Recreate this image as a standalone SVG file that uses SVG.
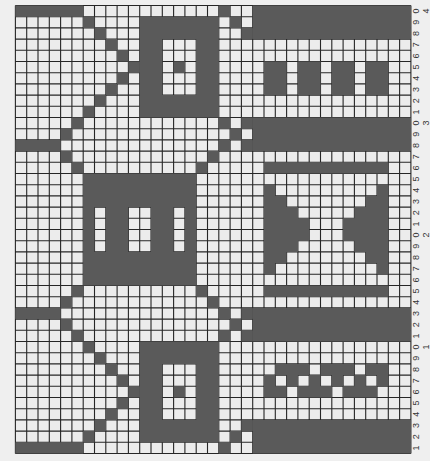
<svg xmlns="http://www.w3.org/2000/svg" width="430" height="461" viewBox="0 0 430 461">
<style>
.lbl{font-family:"Liberation Sans",Arial,sans-serif;font-size:9px;fill:#333;text-anchor:middle;dominant-baseline:central}
.grid{fill:none;stroke:#262626;stroke-width:1.1}
.dk{fill:#5a5a5a}
</style>
<rect width="430" height="461" fill="#efefef"/>
<g id="chart" transform="translate(15.4 5.5) scale(11.3 11.2)">
<rect width="35" height="40" fill="#ececec"/>
<path class="grid" vector-effect="non-scaling-stroke" d="M0 0V40M1 0V40M2 0V40M3 0V40M4 0V40M5 0V40M6 0V40M7 0V40M8 0V40M9 0V40M10 0V40M11 0V40M12 0V40M13 0V40M14 0V40M15 0V40M16 0V40M17 0V40M18 0V40M19 0V40M20 0V40M21 0V40M22 0V40M23 0V40M24 0V40M25 0V40M26 0V40M27 0V40M28 0V40M29 0V40M30 0V40M31 0V40M32 0V40M33 0V40M34 0V40M35 0V40
M0 0H35M0 1H35M0 2H35M0 3H35M0 4H35M0 5H35M0 6H35M0 7H35M0 8H35M0 9H35M0 10H35M0 11H35M0 12H35M0 13H35M0 14H35M0 15H35M0 16H35M0 17H35M0 18H35M0 19H35M0 20H35M0 21H35M0 22H35M0 23H35M0 24H35M0 25H35M0 26H35M0 27H35M0 28H35M0 29H35M0 30H35M0 31H35M0 32H35M0 33H35M0 34H35M0 35H35M0 36H35M0 37H35M0 38H35M0 39H35M0 40H35"/>
<g id="left-lattice" class="dk">
<path d="M0 0h6v1h-6z M6 1h1v1h-1z M7 2h1v1h-1z M8 3h1v1h-1z M9 4h1v1h-1z M10 5h1v1h-1z M9 6h1v1h-1z M8 7h1v1h-1z M7 8h1v1h-1z M6 9h1v1h-1z M5 10h1v1h-1z M4 11h1v1h-1z M0 12h4v1h-4z M4 13h1v1h-1z M5 14h1v1h-1z
M5 25h1v1h-1z M4 26h1v1h-1z M0 27h4v1h-4z M4 28h1v1h-1z M5 29h1v1h-1z M6 30h1v1h-1z M7 31h1v1h-1z M8 32h1v1h-1z M9 33h1v1h-1z M10 34h1v1h-1z M9 35h1v1h-1z M8 36h1v1h-1z M7 37h1v1h-1z M6 38h1v1h-1z M0 39h6v1h-6z"/>
</g>
<g id="blocks" class="dk">
<path fill-rule="evenodd" d="M11 1h7v9h-7z M13 3h3v5h-3z M14 5h1v1h-1z"/>
<path fill-rule="evenodd" d="M6 15h10v10h-10z M7 18h1v4h-1z M10 18h2v4h-2z M14 18h1v4h-1z"/>
<path fill-rule="evenodd" d="M11 30h7v9h-7z M13 32h3v5h-3z M14 34h1v1h-1z"/>
</g>
<g id="diamonds" class="dk">
<path d="M18 0h1v1h-1z M19 1h1v1h-1z M20 2h1v1h-1z
M18 10h1v1h-1z M20 10h1v1h-1z M19 11h1v1h-1z M18 12h1v1h-1z M20 12h1v1h-1z M17 13h1v1h-1z M16 14h1v1h-1z
M16 25h1v1h-1z M17 26h1v1h-1z M18 27h1v1h-1z M20 27h1v1h-1z M19 28h1v1h-1z M18 29h1v1h-1z M20 29h1v1h-1z
M20 37h1v1h-1z M19 38h1v1h-1z M18 39h1v1h-1z"/>
</g>
<g id="right-bands" class="dk">
<path d="M21 0h14v3h-14z M22 5h2v3h-2z M25 5h2v3h-2z M28 5h2v3h-2z M31 5h2v3h-2z M21 10h14v3h-14z"/>
<path d="M22 14h11v1h-11z M22 16h1v1h1v1h1v1h1v2h-1v1h-1v1h-1v1h-1z M33 16h-1v1h-1v1h-1v1h-1v2h1v1h1v1h1v1h1z M22 25h11v1h-11z"/>
<path d="M21 27h14v3h-14z M23 32h3v1h-3z M27 32h3v1h-3z M31 32h2v1h-2z M22 33h1v1h-1z M24 33h1v1h-1z M26 33h1v1h-1z M28 33h1v1h-1z M30 33h1v1h-1z M32 33h1v1h-1z M22 34h2v1h-2z M25 34h3v1h-3z M29 34h3v1h-3z M21 37h14v3h-14z"/>
</g>
</g>
<g id="row-numbers" class="lbl">
<text transform="translate(416 11.1) rotate(-90)">0</text>
<text transform="translate(416 22.3) rotate(-90)">9</text>
<text transform="translate(416 33.5) rotate(-90)">8</text>
<text transform="translate(416 44.7) rotate(-90)">7</text>
<text transform="translate(416 55.9) rotate(-90)">6</text>
<text transform="translate(416 67.1) rotate(-90)">5</text>
<text transform="translate(416 78.3) rotate(-90)">4</text>
<text transform="translate(416 89.5) rotate(-90)">3</text>
<text transform="translate(416 100.7) rotate(-90)">2</text>
<text transform="translate(416 111.9) rotate(-90)">1</text>
<text transform="translate(416 123.1) rotate(-90)">0</text>
<text transform="translate(416 134.3) rotate(-90)">9</text>
<text transform="translate(416 145.5) rotate(-90)">8</text>
<text transform="translate(416 156.7) rotate(-90)">7</text>
<text transform="translate(416 167.9) rotate(-90)">6</text>
<text transform="translate(416 179.1) rotate(-90)">5</text>
<text transform="translate(416 190.3) rotate(-90)">4</text>
<text transform="translate(416 201.5) rotate(-90)">3</text>
<text transform="translate(416 212.7) rotate(-90)">2</text>
<text transform="translate(416 223.9) rotate(-90)">1</text>
<text transform="translate(416 235.1) rotate(-90)">0</text>
<text transform="translate(416 246.3) rotate(-90)">9</text>
<text transform="translate(416 257.5) rotate(-90)">8</text>
<text transform="translate(416 268.7) rotate(-90)">7</text>
<text transform="translate(416 279.9) rotate(-90)">6</text>
<text transform="translate(416 291.1) rotate(-90)">5</text>
<text transform="translate(416 302.3) rotate(-90)">4</text>
<text transform="translate(416 313.5) rotate(-90)">3</text>
<text transform="translate(416 324.7) rotate(-90)">2</text>
<text transform="translate(416 335.9) rotate(-90)">1</text>
<text transform="translate(416 347.1) rotate(-90)">0</text>
<text transform="translate(416 358.3) rotate(-90)">9</text>
<text transform="translate(416 369.5) rotate(-90)">8</text>
<text transform="translate(416 380.7) rotate(-90)">7</text>
<text transform="translate(416 391.9) rotate(-90)">6</text>
<text transform="translate(416 403.1) rotate(-90)">5</text>
<text transform="translate(416 414.3) rotate(-90)">4</text>
<text transform="translate(416 425.5) rotate(-90)">3</text>
<text transform="translate(416 436.7) rotate(-90)">2</text>
<text transform="translate(416 447.9) rotate(-90)">1</text>
<text transform="translate(426 11.1) rotate(-90)">4</text>
<text transform="translate(426 123.1) rotate(-90)">3</text>
<text transform="translate(426 235.1) rotate(-90)">2</text>
<text transform="translate(426 347.1) rotate(-90)">1</text>
</g>
</svg>
